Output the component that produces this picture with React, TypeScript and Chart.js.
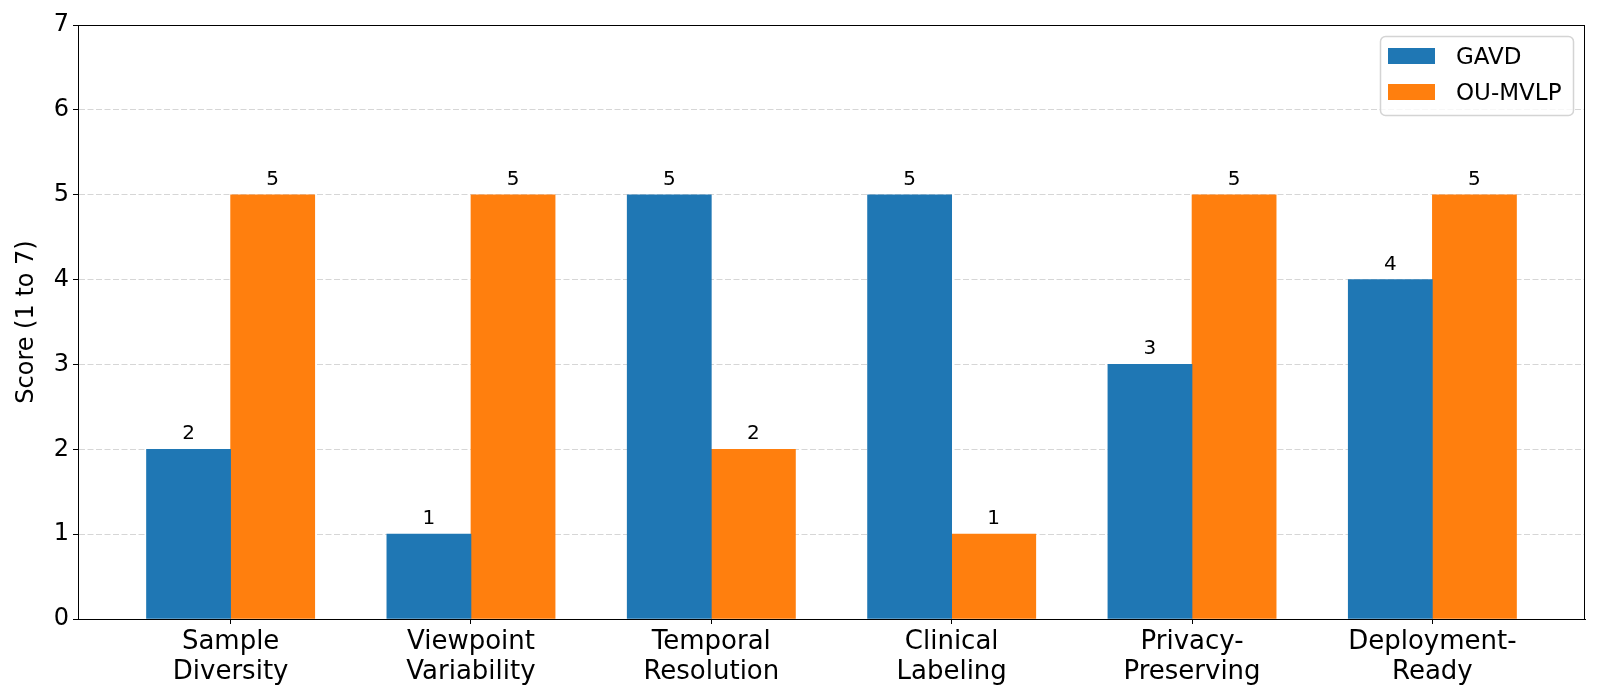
import React, { useEffect, useRef } from "react";
import { Chart, registerables } from "chart.js";

Chart.register(...registerables);

const categories: string[][] = [
  ["Sample", "Diversity"],
  ["Viewpoint", "Variability"],
  ["Temporal", "Resolution"],
  ["Clinical", "Labeling"],
  ["Privacy-", "Preserving"],
  ["Deployment-", "Ready"],
];
const gavdScores = [2, 1, 5, 5, 3, 4];
const ouMvlpScores = [5, 5, 2, 1, 5, 5];
const seriesNames = ["GAVD", "OU-MVLP"];
const seriesColors = ["#1f77b4", "#ff7f0e"];
const yTicks = [0, 1, 2, 3, 4, 5, 6, 7];
const barWidth = 0.35;

const FONT = "'DejaVu Sans', sans-serif";

const framePlugin = {
  id: "frame",
  afterDatasetsDraw(chart: any) {
    const { ctx, chartArea } = chart;
    ctx.save();
    ctx.strokeStyle = "#000";
    ctx.lineWidth = 1;
    ctx.strokeRect(
      Math.round(chartArea.left) + 0.5,
      Math.round(chartArea.top) + 0.5,
      Math.round(chartArea.right - chartArea.left) - 1,
      Math.round(chartArea.bottom - chartArea.top)
    );
    ctx.restore();
  },
};

const valueLabelPlugin = {
  id: "valueLabels",
  afterDatasetsDraw(chart: any) {
    const { ctx } = chart;
    ctx.save();
    ctx.fillStyle = "#000";
    ctx.font = `20px ${FONT}`;
    ctx.textAlign = "center";
    ctx.textBaseline = "alphabetic";
    chart.data.datasets.forEach((ds: any, di: number) => {
      const meta = chart.getDatasetMeta(di);
      meta.data.forEach((el: any, i: number) => {
        const v = ds.data[i].y;
        ctx.fillText(String(v), el.x, el.y - 10);
      });
    });
    ctx.restore();
  },
};

const boxLegendPlugin = {
  id: "boxLegend",
  afterDraw(chart: any) {
    const { ctx, chartArea } = chart;
    const w = 193;
    const h = 79;
    const x = chartArea.right - 12 - w;
    const y = chartArea.top + 11;
    ctx.save();
    ctx.beginPath();
    if (ctx.roundRect) ctx.roundRect(x + 0.5, y + 0.5, w, h, 5);
    else ctx.rect(x + 0.5, y + 0.5, w, h);
    ctx.fillStyle = "rgba(255,255,255,0.8)";
    ctx.fill();
    ctx.strokeStyle = "#d4d4d4";
    ctx.lineWidth = 1.5;
    ctx.stroke();
    ctx.font = `23px ${FONT}`;
    ctx.textAlign = "left";
    ctx.textBaseline = "middle";
    chart.data.datasets.forEach((ds: any, i: number) => {
      const rowY = y + 12 + i * 36;
      ctx.fillStyle = ds.backgroundColor;
      ctx.fillRect(x + 8, rowY, 47, 16);
      ctx.fillStyle = "#000";
      ctx.fillText(ds.label, x + 76, rowY + 10);
    });
    ctx.restore();
  },
};

export default function App() {
  const canvasRef = useRef<HTMLCanvasElement | null>(null);

  useEffect(() => {
    if (!canvasRef.current) return;
    const datasets = [gavdScores, ouMvlpScores].map((vals, si) => ({
      label: seriesNames[si],
      data: vals.map((v, i) => ({ x: i + (si === 0 ? -barWidth / 2 : barWidth / 2), y: v })),
      backgroundColor: seriesColors[si],
      borderWidth: 0,
      grouped: false,
      barPercentage: 1,
      categoryPercentage: 1,
    }));
    const span = categories.length - 1 + 2 * barWidth;
    const xMin = -barWidth - 0.05 * span;
    const xMax = categories.length - 1 + barWidth + 0.05 * span;

    const chart = new Chart(canvasRef.current, {
      type: "bar",
      data: { datasets: datasets as any },
      options: {
        animation: false,
        responsive: false,
        devicePixelRatio: 1,
        layout: { padding: { left: 0, top: 25, right: 15, bottom: 0 } },
        plugins: {
          legend: { display: false },
          tooltip: { enabled: false },
        },
        scales: {
          x: {
            type: "linear",
            offset: false,
            min: xMin,
            max: xMax,
            afterBuildTicks: (scale: any) => {
              scale.ticks = categories.map((_, i) => ({ value: i }));
            },
            afterFit: (scale: any) => {
              scale.height = 81;
              scale.paddingLeft = 0;
              scale.paddingRight = 0;
              scale.paddingTop = 0;
              scale.paddingBottom = 0;
            },
            ticks: {
              autoSkip: false,
              maxRotation: 0,
              color: "#000",
              padding: 3,
              font: { family: FONT, size: 26, lineHeight: 1.15 },
              callback: (value: any) => categories[Math.round(Number(value))] ?? "",
            },
            grid: {
              display: true,
              offset: false,
              drawOnChartArea: false,
              drawTicks: true,
              tickLength: 5,
              tickColor: "#000",
              tickWidth: 1,
            },
            border: { display: true, color: "#000", width: 1 },
          },
          y: {
            type: "linear",
            min: yTicks[0],
            max: yTicks[yTicks.length - 1],
            afterBuildTicks: (scale: any) => {
              scale.ticks = yTicks.map((v) => ({ value: v }));
            },
            afterFit: (scale: any) => {
              scale.width = 78;
              scale.paddingLeft = 0;
              scale.paddingRight = 0;
              scale.paddingTop = 0;
              scale.paddingBottom = 0;
            },
            ticks: {
              color: "#000",
              padding: 4,
              font: { family: FONT, size: 24 },
            },
            title: {
              display: true,
              text: "Score (1 to 7)",
              color: "#000",
              font: { family: FONT, size: 24 },
              padding: { top: 12, bottom: 0 },
            },
            grid: {
              color: "#d6d6d6",
              lineWidth: 1,
              drawTicks: true,
              tickLength: 5,
              tickColor: "#000",
              tickWidth: 1,
            },
            border: { display: true, color: "#000", width: 1, dash: [6, 2.5] },
          },
        },
      },
      plugins: [framePlugin, valueLabelPlugin, boxLegendPlugin],
    });
    return () => chart.destroy();
  }, []);

  return (
    <div
      style={{
        position: "fixed",
        left: 0,
        top: 0,
        width: 1600,
        height: 700,
        overflow: "hidden",
        background: "#fff",
      }}
    >
      <canvas
        ref={canvasRef}
        width={1600}
        height={700}
        style={{ display: "block", width: 1600, height: 700 }}
      />
    </div>
  );
}
